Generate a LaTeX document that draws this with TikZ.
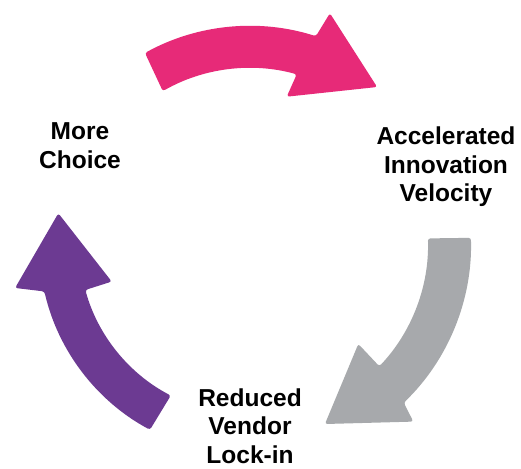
\documentclass[tikz,border=0pt]{standalone}
\usepackage{fontspec}
\setmainfont{Liberation Sans}
\definecolor{pinkA}{HTML}{E72A78}
\definecolor{purpA}{HTML}{6C3A92}
\definecolor{grayA}{HTML}{A7A9AC}
\tikzset{
  cyclearrow/.style={line join=round, rounded corners=2.5pt},
  lbl/.style={inner sep=0pt, anchor=base, text=black,
    font=\bfseries\fontsize{24.5}{28.3}\selectfont}
}
\begin{document}
\begin{tikzpicture}[x=1pt,y=1pt]
\useasboundingbox (0,0) rectangle (521,468);
\fill[white] (0,0) rectangle (521,468);
\begin{scope}[shift={(250,224)}]
  % pink arrow (top)
  \fill[pinkA, cyclearrow]
    (118.8:218) arc[start angle=118.8, end angle=72.4, radius=218pt]
    -- (70.9:244.2) -- (51:202) -- (76:151.8) -- (74.6:176)
    arc[start angle=74.6, end angle=119.7, radius=176pt] -- cycle;
  % gray arrow (right)
  \fill[grayA, cyclearrow]
    (1.6:221) arc[start angle=1.6, end angle=-45.9, radius=221pt]
    -- (-47.4:241.3) -- (-67.4:195) -- (-42.7:147.4) -- (-43.4:178)
    arc[start angle=-43.4, end angle=1.8, radius=178pt] -- cycle;
  % purple arrow (left)
  \fill[purpA, cyclearrow]
    (241.7:211) arc[start angle=241.7, end angle=193, radius=211pt]
    -- (190.6:239) -- (170.9:194.1) -- (195.2:143.3) -- (195.6:171)
    arc[start angle=195.6, end angle=242.4, radius=171pt] -- cycle;
\end{scope}
\node[lbl] (choice) at (80,328) {\begin{tabular}[t]{@{}c@{}}More\\Choice\end{tabular}};
\node[lbl] (velocity) at (446,323) {\begin{tabular}[t]{@{}c@{}}Accelerated\\Innovation\\Velocity\end{tabular}};
\node[lbl] (lockin) at (250,61.5) {\begin{tabular}[t]{@{}c@{}}Reduced\\Vendor\\Lock-in\end{tabular}};
\end{tikzpicture}
\end{document}
